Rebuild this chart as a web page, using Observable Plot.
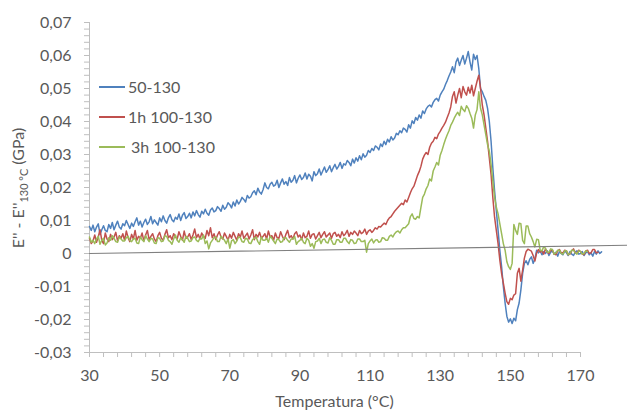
<!DOCTYPE html>
<html><head><meta charset="utf-8">
<script src="https://cdn.jsdelivr.net/npm/d3@7"></script>
<script src="https://cdn.jsdelivr.net/npm/@observablehq/plot@0.6"></script>
<style>
html,body{margin:0;padding:0;background:#fff;}
#chart{width:627px;height:410px;}
</style></head><body><div id="chart"></div>
<script>
// Temperature (°C), sampled every 0.5 °C
const temps = [
30,30.5,31,31.5,32,32.5,33,33.5,34,34.5,35,35.5,36,36.5,37,37.5,38,38.5,39,39.5,
40,40.5,41,41.5,42,42.5,43,43.5,44,44.5,45,45.5,46,46.5,47,47.5,48,48.5,49,49.5,
50,50.5,51,51.5,52,52.5,53,53.5,54,54.5,55,55.5,56,56.5,57,57.5,58,58.5,59,59.5,
60,60.5,61,61.5,62,62.5,63,63.5,64,64.5,65,65.5,66,66.5,67,67.5,68,68.5,69,69.5,
70,70.5,71,71.5,72,72.5,73,73.5,74,74.5,75,75.5,76,76.5,77,77.5,78,78.5,79,79.5,
80,80.5,81,81.5,82,82.5,83,83.5,84,84.5,85,85.5,86,86.5,87,87.5,88,88.5,89,89.5,
90,90.5,91,91.5,92,92.5,93,93.5,94,94.5,95,95.5,96,96.5,97,97.5,98,98.5,99,99.5,
100,100.5,101,101.5,102,102.5,103,103.5,104,104.5,105,105.5,106,106.5,107,107.5,108,108.5,109,109.5,
110,110.5,111,111.5,112,112.5,113,113.5,114,114.5,115,115.5,116,116.5,117,117.5,118,118.5,119,119.5,
120,120.5,121,121.5,122,122.5,123,123.5,124,124.5,125,125.5,126,126.5,127,127.5,128,128.5,129,129.5,
130,130.5,131,131.5,132,132.5,133,133.5,134,134.5,135,135.5,136,136.5,137,137.5,138,138.5,139,139.5,
140,140.5,141,141.5,142,142.5,143,143.5,144,144.5,145,145.5,146,146.5,147,147.5,148,148.5,149,149.5,
150,150.5,151,151.5,152,152.5,153,153.5,154,154.5,155,155.5,156,156.5,157,157.5,158,158.5,159,159.5,
160,160.5,161,161.5,162,162.5,163,163.5,164,164.5,165,165.5,166,166.5,167,167.5,168,168.5,169,169.5,
170,170.5,171,171.5,172,172.5,173,173.5,174,174.5,175,175.5,176];

// E'' - E''(130 °C) in GPa
const s50_130 = [
.0082,.0070,.0086,.0066,.0080,.0090,.0058,.0072,.0084,.0070,
.0066,.0088,.0076,.0094,.0072,.0086,.0098,.0080,.0074,.0090,
.0084,.0100,.0088,.0076,.0092,.0082,.0096,.0108,.0086,.0098,
.0080,.0094,.0104,.0088,.0096,.0112,.0090,.0102,.0094,.0086,
.0108,.0096,.0114,.0100,.0092,.0108,.0118,.0102,.0096,.0110,
.0104,.0120,.0100,.0116,.0124,.0106,.0112,.0122,.0108,.0126,
.0114,.0130,.0118,.0110,.0128,.0120,.0134,.0122,.0116,.0132,
.0138,.0126,.0130,.0142,.0136,.0128,.0146,.0134,.0140,.0154,
.0148,.0138,.0156,.0144,.0162,.0150,.0158,.0170,.0164,.0156,
.0176,.0168,.0172,.0184,.0190,.0178,.0198,.0186,.0180,.0194,
.0214,.0200,.0196,.0210,.0216,.0204,.0208,.0222,.0200,.0214,
.0226,.0210,.0218,.0206,.0230,.0216,.0222,.0236,.0214,.0228,
.0238,.0224,.0230,.0244,.0226,.0240,.0234,.0220,.0248,.0236,
.0242,.0256,.0238,.0250,.0262,.0246,.0254,.0266,.0248,.0260,
.0270,.0256,.0264,.0276,.0258,.0272,.0268,.0282,.0276,.0266,
.0286,.0274,.0290,.0280,.0296,.0284,.0302,.0292,.0298,.0312,
.0306,.0318,.0312,.0326,.0322,.0314,.0332,.0324,.0340,.0330,
.0346,.0338,.0354,.0344,.0350,.0364,.0360,.0372,.0366,.0380,
.0376,.0368,.0390,.0380,.0402,.0394,.0412,.0404,.0420,.0410,
.0432,.0424,.0438,.0446,.0450,.0444,.0458,.0466,.0470,.0462,
.0480,.0490,.0498,.0512,.0524,.0538,.0550,.0566,.0548,.0580,
.0592,.0570,.0586,.0600,.0574,.0592,.0612,.0580,.0556,.0604,
.0588,.0600,.0560,.0500,.0490,.0476,.0464,.0440,.0400,.0340,
.0260,.0190,.0130,.0070,.0010,-.0040,-.0100,-.0150,-.0190,-.0208,
-.0198,-.0212,-.0196,-.0204,-.0170,-.0150,-.0110,-.0060,-.0030,-.0022,
-.0034,-.0018,-.0010,-.0030,-.0016,.0010,.0002,.0008,-.0004,.0006,
.0000,.0008,-.0006,.0004,.0008,-.0002,.0004,-.0008,.0006,.0000,
-.0004,.0008,.0002,-.0006,.0006,-.0002,-.0006,.0004,.0008,-.0002,
.0000,.0006,-.0006,.0002,.0006,-.0004,.0002,-.0008,.0006,-.0002,
.0008,.0000,.0005];

const s1h_100_130 = [
.0046,.0030,.0038,.0056,.0034,.0050,.0072,.0040,.0030,.0062,
.0044,.0036,.0058,.0042,.0050,.0064,.0038,.0054,.0046,.0060,
.0040,.0068,.0048,.0036,.0058,.0044,.0070,.0040,.0052,.0046,
.0062,.0038,.0056,.0070,.0042,.0052,.0060,.0044,.0036,.0054,
.0064,.0046,.0040,.0058,.0072,.0048,.0054,.0042,.0060,.0050,
.0044,.0066,.0052,.0040,.0068,.0046,.0050,.0060,.0042,.0056,
.0074,.0048,.0058,.0044,.0062,.0052,.0046,.0070,.0054,.0078,
.0048,.0060,.0042,.0056,.0066,.0050,.0044,.0062,.0052,.0040,
.0058,.0046,.0064,.0052,.0040,.0060,.0050,.0068,.0046,.0054,
.0062,.0044,.0056,.0072,.0042,.0058,.0050,.0064,.0046,.0052,
.0060,.0044,.0068,.0050,.0054,.0040,.0062,.0048,.0046,.0066,
.0052,.0042,.0058,.0070,.0048,.0054,.0044,.0060,.0066,.0050,
.0056,.0042,.0062,.0048,.0052,.0068,.0046,.0058,.0060,.0044,
.0054,.0064,.0048,.0058,.0066,.0050,.0056,.0062,.0046,.0060,
.0064,.0052,.0058,.0048,.0066,.0054,.0060,.0070,.0052,.0064,
.0058,.0068,.0062,.0054,.0070,.0060,.0064,.0074,.0058,.0068,
.0072,.0064,.0070,.0078,.0074,.0082,.0080,.0086,.0092,.0088,
.0100,.0108,.0112,.0120,.0128,.0134,.0140,.0146,.0152,.0148,
.0162,.0156,.0170,.0184,.0196,.0204,.0220,.0236,.0248,.0264,
.0286,.0298,.0306,.0300,.0322,.0334,.0340,.0352,.0348,.0362,
.0370,.0380,.0388,.0398,.0412,.0426,.0444,.0476,.0490,.0456,
.0480,.0500,.0472,.0506,.0490,.0480,.0504,.0486,.0510,.0478,
.0500,.0522,.0540,.0500,.0450,.0420,.0380,.0340,.0290,.0240,
.0170,.0110,.0070,.0030,-.0020,-.0060,-.0090,-.0120,-.0146,-.0154,
-.0136,-.0140,-.0126,-.0122,-.0060,-.0045,-.0084,-.0050,-.0014,.0006,
.0013,.0010,.0007,-.0006,-.0023,.0002,.0012,.0004,.0008,-.0002,
.0014,.0004,.0000,.0010,.0010,-.0002,-.0004,.0008,.0012,.0002,
.0002,.0010,.0008,-.0004,-.0002,.0008,.0014,.0002,.0000,.0010,
.0006,-.0002,-.0004,.0008,.0010,.0000,.0002,.0012,.0012,.0002,
.0004];

const s3h_100_130 = [
.0050,.0034,.0040,.0030,.0044,.0052,.0028,.0040,.0046,.0026,
.0032,.0048,.0040,.0054,.0046,.0036,.0034,.0050,.0044,.0038,
.0038,.0048,.0052,.0040,.0036,.0044,.0046,.0032,.0030,.0050,
.0042,.0036,.0054,.0044,.0036,.0046,.0044,.0032,.0030,.0048,
.0046,.0036,.0038,.0054,.0052,.0040,.0036,.0028,.0044,.0056,
.0040,.0034,.0048,.0042,.0034,.0052,.0046,.0036,.0038,.0048,
.0050,.0040,.0036,.0046,.0044,.0056,.0030,.0038,.0014,.0032,
.0040,.0048,.0050,.0036,.0036,.0052,.0046,.0040,.0030,.0044,
.0016,.0038,.0042,.0030,.0038,.0050,.0048,.0036,.0034,.0046,
.0044,.0032,.0030,.0042,.0046,.0050,.0036,.0028,.0050,.0040,
.0040,.0046,.0034,.0052,.0046,.0038,.0030,.0044,.0042,.0034,
.0036,.0048,.0048,.0040,.0034,.0044,.0044,.0052,.0028,.0036,
.0040,.0046,.0034,.0030,.0046,.0040,.0022,.0030,.0016,.0036,
.0038,.0046,.0030,.0042,.0044,.0034,.0032,.0048,.0040,.0028,
.0028,.0042,.0042,.0034,.0034,.0046,.0046,.0036,.0030,.0042,
.0040,.0030,.0032,.0044,.0044,.0036,.0036,.0040,.0004,.0030,
.0038,.0044,.0032,.0040,.0042,.0034,.0036,.0048,.0046,.0040,
.0040,.0052,.0056,.0050,.0060,.0066,.0068,.0062,.0072,.0078,
.0078,.0084,.0090,.0112,.0120,.0106,.0104,.0112,.0108,.0140,
.0170,.0180,.0196,.0206,.0226,.0220,.0250,.0262,.0276,.0268,
.0298,.0312,.0330,.0346,.0360,.0372,.0388,.0398,.0410,.0420,
.0428,.0418,.0446,.0436,.0430,.0448,.0440,.0424,.0410,.0380,
.0420,.0436,.0490,.0440,.0420,.0390,.0360,.0330,.0310,.0270,
.0220,.0170,.0140,.0120,.0090,.0060,.0030,.0010,-.0025,-.0040,
-.0048,-.0030,.0088,.0070,.0058,.0092,.0090,.0040,.0030,.0083,
.0083,.0060,.0050,.0036,.0020,.0043,.0042,.0010,.0008,.0020,
.0016,.0004,.0004,.0014,.0012,-.0002,.0002,.0010,.0010,.0000,
-.0002,.0008,.0008,-.0004,.0000,.0010,.0010,.0002,-.0002,.0008,
.0006,-.0002,.0000,.0008,.0006];

const seriesNames = ["50-130", "1h 100-130", "3h 100-130"];
const seriesColors = ["#4F81BD", "#C0504D", "#9BBB59"];
const seriesValues = [s50_130, s1h_100_130, s3h_100_130];

// Straight grey reference line (T, value)
const refLineT = [30, 183.4];
const refLineV = [0, 0.0025];

const xTickLabels = [30, 50, 70, 90, 110, 130, 150, 170];
const yTickLabels = [-0.03, -0.02, -0.01, 0, 0.01, 0.02, 0.03, 0.04, 0.05, 0.06, 0.07];
const xMinorTicks = d3.range(30, 171, 4);
const yMinorTicks = d3.range(-30, 71, 2).map(d => d / 1000);

const xTitle = "Temperatura (°C)";

const rows = [];
seriesValues.forEach((vals, k) => {
  vals.forEach((v, i) => rows.push({T: temps[i], v, s: seriesNames[k]}));
});
const refRows = refLineT.map((t, i) => ({T: t, v: refLineV[i]}));

const fmtY = d => Math.abs(d) < 1e-9 ? "0" : d.toFixed(2).replace(".", ",");
const axisGrey = "#bfbfbf";
const textGrey = "#595959";

const svg = Plot.plot({
  width: 627,
  height: 410,
  marginLeft: 89,
  marginRight: 47,
  marginTop: 22,
  marginBottom: 58,
  style: {fontFamily: "Lato", fontSize: "16px", color: textGrey, background: "#fff", overflow: "visible"},
  x: {domain: [30, 170], label: null},
  y: {domain: [-0.03, 0.07], label: null},
  color: {domain: seriesNames, range: seriesColors},
  marks: [
    Plot.ruleX([30], {stroke: axisGrey, strokeWidth: 1}),
    Plot.ruleY([-0.03], {stroke: axisGrey, strokeWidth: 1}),
    Plot.axisY({ticks: yMinorTicks, tickSize: 5, tickFormat: () => "", stroke: axisGrey, label: null}),
    Plot.axisY({ticks: yTickLabels, tickSize: 0, tickPadding: 18, tickFormat: fmtY, fill: textGrey, fontSize: 16, label: null}),
    Plot.axisX({ticks: xMinorTicks, tickSize: 5, tickFormat: () => "", stroke: axisGrey, label: null}),
    Plot.axisX({ticks: xTickLabels, tickSize: 0, tickPadding: 17, tickFormat: d => String(d), fill: textGrey, fontSize: 16, label: null}),
    Plot.line(rows, {x: "T", y: "v", z: "s", stroke: "s", strokeWidth: 1.5, strokeLinejoin: "round", curve: "linear"}),
    Plot.line(refRows, {x: "T", y: "v", stroke: "#808080", strokeWidth: 1.2})
  ]
});

const sel = d3.select(svg);
// X axis title
sel.append("text")
  .attr("x", 334.5).attr("y", 407)
  .attr("text-anchor", "middle")
  .attr("fill", textGrey)
  .style("font-family", "Lato").style("font-size", "16px")
  .text(xTitle);

// Y axis title with subscript
const yt = sel.append("text")
  .attr("transform", "translate(24,188) rotate(-90)")
  .attr("text-anchor", "middle")
  .attr("fill", textGrey)
  .style("font-family", "Lato").style("font-size", "16px");
yt.append("tspan").text("E'' - E''");
yt.append("tspan").attr("dy", 4).style("font-size", "11px").text("130 °C");
yt.append("tspan").attr("dy", -4).text(" (GPa)");

// Legend
const legendY = [87, 117, 147];
const legendTextX = [128, 128, 131];
const lg = sel.append("g").attr("text-anchor", "start");
seriesNames.forEach((name, i) => {
  lg.append("line").attr("x1", 99).attr("x2", 125).attr("y1", legendY[i]).attr("y2", legendY[i])
    .attr("stroke", seriesColors[i]).attr("stroke-width", 2);
  lg.append("text").attr("x", legendTextX[i]).attr("y", legendY[i] + 6)
    .attr("text-anchor", "start")
    .attr("fill", textGrey).style("font-family", "Lato").style("font-size", "16px")
    .text(name);
});

document.getElementById("chart").appendChild(svg);
</script>
</body></html>
